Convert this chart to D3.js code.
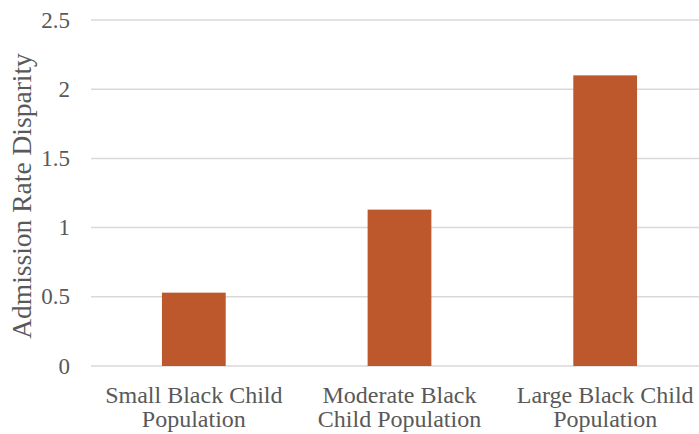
<!DOCTYPE html>
<html lang="en">
<head>
<meta charset="UTF-8">
<script src="https://d3js.org/d3.v7.min.js"></script>
<title>Admission Rate Disparity</title>
<style>
  body { margin: 0; background: #fff; }
  text { font-family: "Liberation Serif", "Times New Roman", serif; fill: #595959; }
</style>
</head>
<body>
<svg id="chart" width="699" height="434"></svg>
<script>
// data
const categories = [
  ["Small Black Child", "Population"],
  ["Moderate Black", "Child Population"],
  ["Large Black Child", "Population"]
];
const values = [0.53, 1.13, 2.10];
const yTicks = [0, 0.5, 1, 1.5, 2, 2.5];

const svg = d3.select("#chart");
const margin = {top: 20, left: 91, bottom: 68};

// plot runs off the right edge a little, like the original crop
const x = d3.scaleBand()
  .domain(d3.range(categories.length))
  .range([margin.left, 708]);

const y = d3.scaleLinear()
  .domain([0, 2.5])
  .range([366, margin.top]);

const barW = x.bandwidth() * 0.31;

// gridlines
svg.append("g")
  .selectAll("line")
  .data(yTicks)
  .join("line")
  .attr("x1", margin.left)
  .attr("x2", 699)
  .attr("y1", d => y(d))
  .attr("y2", d => y(d))
  .attr("stroke", "#d9d9d9")
  .attr("stroke-width", 1.5);

// y tick labels
svg.append("g")
  .selectAll("text")
  .data(yTicks)
  .join("text")
  .attr("x", 70)
  .attr("y", d => y(d))
  .attr("dy", "0.33em")
  .attr("text-anchor", "end")
  .style("font-size", "23px")
  .text(d => d);

// bars
svg.append("g")
  .selectAll("rect")
  .data(values)
  .join("rect")
  .attr("x", (d, i) => x(i) + x.bandwidth() / 2 - barW / 2)
  .attr("width", barW)
  .attr("y", d => y(d))
  .attr("height", d => y(0) - y(d))
  .attr("fill", "#bd582c");

// x labels (two lines)
const xl = svg.append("g")
  .selectAll("text")
  .data(categories)
  .join("text")
  .attr("text-anchor", "middle")
  .style("font-size", "24px")
  .attr("transform", (d, i) => `translate(${x(i) + x.bandwidth() / 2},403)`);

xl.selectAll("tspan")
  .data(d => d)
  .join("tspan")
  .attr("x", 0)
  .attr("y", (d, j) => j * 24)
  .text(d => d);

// y axis title
svg.append("text")
  .attr("transform", "translate(31,196) rotate(-90)")
  .attr("text-anchor", "middle")
  .style("font-size", "27.5px")
  .text("Admission Rate Disparity");
</script>
</body>
</html>
